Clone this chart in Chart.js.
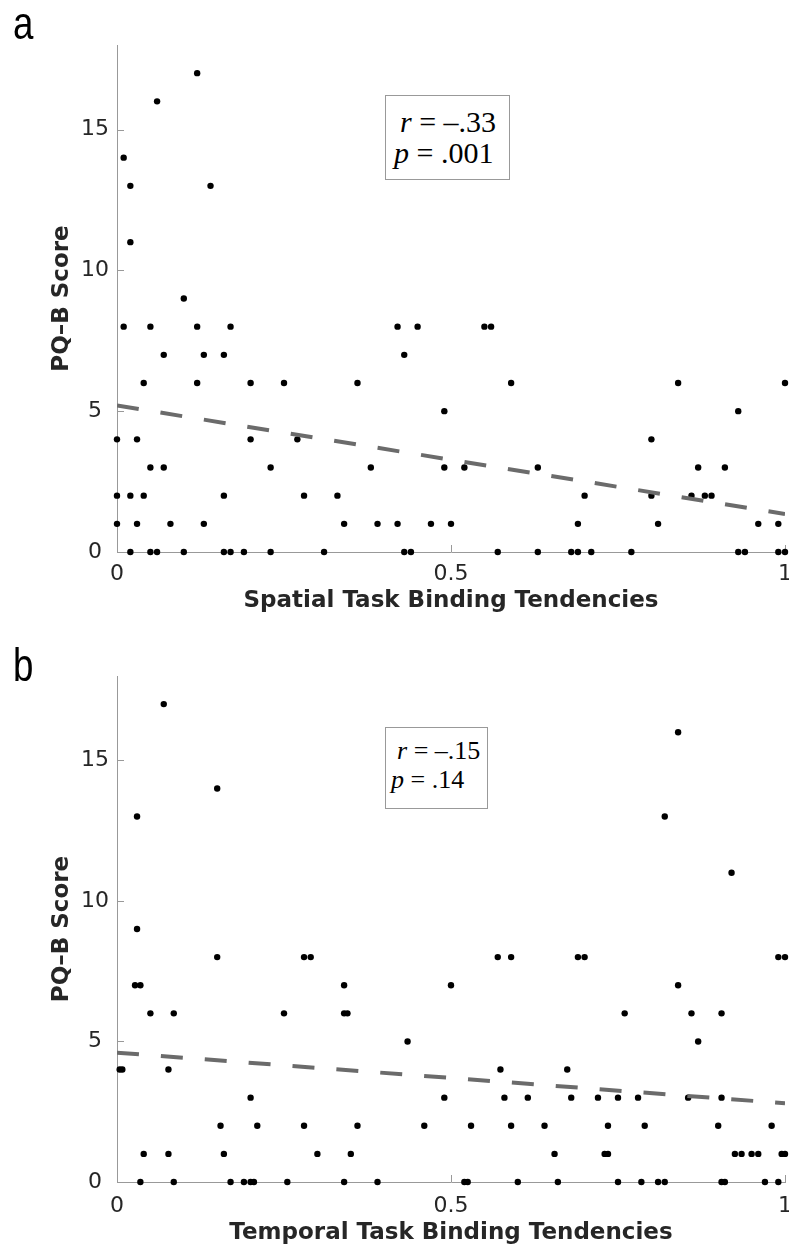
<!DOCTYPE html>
<html>
<head>
<meta charset="utf-8">
<script src="https://cdn.jsdelivr.net/npm/chart.js@4.4.1/dist/chart.umd.min.js"></script>
<style>
  body{margin:0;background:#fff;width:789px;height:1250px;position:relative;overflow:hidden}
  .panel{position:absolute;left:0;width:789px;height:625px}
  canvas{display:block}
  .lbl{position:absolute;font-family:"Liberation Sans",sans-serif;font-size:47px;line-height:47px;color:#000;
       transform:scaleX(0.78);transform-origin:left top}
  .stat{position:absolute;box-sizing:border-box;border:1px solid #999;background:#fff;
        font-family:"Liberation Serif",serif;color:#000;white-space:nowrap}
  .stat .r{margin-left:6px}
</style>
</head>
<body>
<div class="panel" style="top:0"><canvas id="chartA" width="789" height="625"></canvas></div>
<div class="panel" style="top:625px"><canvas id="chartB" width="789" height="625"></canvas></div>
<div class="lbl" style="left:13px;top:-1px">a</div>
<div class="lbl" style="left:13px;top:641px">b</div>
<div class="stat" style="left:385px;top:95px;width:125px;height:85px;font-size:30px;line-height:31px;padding:10px 0 0 8px"><span class="r"><i>r</i> = –.33</span><br><i>p</i> = .001</div>
<div class="stat" style="left:385px;top:727px;width:103px;height:82px;font-size:26px;line-height:29px;padding:8px 0 0 5px"><span class="r"><i>r</i> = –.15</span><br><i>p</i> = .14</div>

<script>
// axis ticks
const xTicks = [0, 0.5, 1];
const yTicks = [0, 5, 10, 15];
const yMax = 18;

// panel a: spatial task binding vs PQ-B score
const spatialX = [0.12, 0.06, 0.01, 0.02, 0.14, 0.02, 0.10,
  0.01, 0.05, 0.12, 0.17, 0.42, 0.45, 0.55, 0.56,
  0.07, 0.13, 0.16, 0.43,
  0.04, 0.12, 0.20, 0.25, 0.36, 0.59, 0.84, 1.0,
  0.49, 0.93,
  0.0, 0.03, 0.20, 0.27, 0.80,
  0.05, 0.07, 0.23, 0.38, 0.49, 0.52, 0.63, 0.87, 0.91,
  0.0, 0.02, 0.04, 0.16, 0.28, 0.33, 0.70, 0.80, 0.86, 0.88, 0.89,
  0.0, 0.03, 0.08, 0.13, 0.34, 0.39, 0.42, 0.47, 0.50, 0.69, 0.81, 0.96, 0.99,
  0.02, 0.05, 0.06, 0.10, 0.16, 0.17, 0.19, 0.23, 0.31, 0.43, 0.44, 0.57, 0.63, 0.68, 0.69, 0.71, 0.77, 0.93, 0.94, 0.99, 1.0];
const spatialY = [17, 16, 14, 13, 13, 11, 9,
  8, 8, 8, 8, 8, 8, 8, 8,
  7, 7, 7, 7,
  6, 6, 6, 6, 6, 6, 6, 6,
  5, 5,
  4, 4, 4, 4, 4,
  3, 3, 3, 3, 3, 3, 3, 3, 3,
  2, 2, 2, 2, 2, 2, 2, 2, 2, 2, 2,
  1, 1, 1, 1, 1, 1, 1, 1, 1, 1, 1, 1, 1,
  0, 0, 0, 0, 0, 0, 0, 0, 0, 0, 0, 0, 0, 0, 0, 0, 0, 0, 0, 0, 0];
const spatialFitX = [0, 1];
const spatialFitY = [5.2, 1.35];

// panel b: temporal task binding vs PQ-B score
const temporalX = [0.07, 0.84, 0.15, 0.03, 0.82, 0.92, 0.03,
  0.15, 0.28, 0.29, 0.57, 0.59, 0.69, 0.70, 0.99, 1.0,
  0.027, 0.035, 0.34, 0.50, 0.84,
  0.05, 0.085, 0.25, 0.34, 0.345, 0.76, 0.86, 0.905,
  0.435, 0.87,
  0.004, 0.008, 0.077, 0.574, 0.674,
  0.20, 0.49, 0.58, 0.615, 0.68, 0.72, 0.75, 0.78, 0.855, 0.905,
  0.155, 0.21, 0.28, 0.36, 0.46, 0.53, 0.59, 0.64, 0.735, 0.79, 0.90, 0.98,
  0.04, 0.077, 0.16, 0.30, 0.35, 0.655, 0.73, 0.735, 0.925, 0.935, 0.95, 0.96, 0.995, 1.0,
  0.035, 0.085, 0.17, 0.19, 0.20, 0.205, 0.255, 0.34, 0.39, 0.52, 0.525, 0.60, 0.66, 0.75, 0.785, 0.81, 0.82, 0.905, 0.91, 0.97, 0.99];
const temporalY = [17, 16, 14, 13, 13, 11, 9,
  8, 8, 8, 8, 8, 8, 8, 8, 8,
  7, 7, 7, 7, 7,
  6, 6, 6, 6, 6, 6, 6, 6,
  5, 5,
  4, 4, 4, 4, 4,
  3, 3, 3, 3, 3, 3, 3, 3, 3, 3,
  2, 2, 2, 2, 2, 2, 2, 2, 2, 2, 2, 2,
  1, 1, 1, 1, 1, 1, 1, 1, 1, 1, 1, 1, 1, 1,
  0, 0, 0, 0, 0, 0, 0, 0, 0, 0, 0, 0, 0, 0, 0, 0, 0, 0, 0, 0, 0];
const temporalFitX = [0, 1];
const temporalFitY = [4.6, 2.8];

Chart.defaults.font.family = "DejaVu Sans";
Chart.defaults.color = "#262626";

// MATLAB style tick marks pointing into the plot
const innerTicks = {
  id: "innerTicks",
  beforeDatasetsDraw(chart){
    const {ctx, chartArea: a, scales: {x, y}} = chart;
    ctx.save();
    ctx.strokeStyle = "#999";
    ctx.lineWidth = 1;
    ctx.beginPath();
    x.ticks.forEach(t => {
      const px = Math.round(x.getPixelForValue(t.value)) + 0.5;
      ctx.moveTo(px, a.bottom); ctx.lineTo(px, a.bottom - 7);
    });
    y.ticks.forEach(t => {
      const py = Math.round(y.getPixelForValue(t.value)) + 0.5;
      ctx.moveTo(a.left, py); ctx.lineTo(a.left + 7, py);
    });
    ctx.stroke();
    ctx.restore();
  }
};

function makeChart(id, xs, ys, fitX, fitY, xTitle, top, xHeight, tickPad, titlePad){
  return new Chart(document.getElementById(id), {
    type: "scatter",
    data: {
      datasets: [
        {
          type: "line",
          data: fitX.map((v, i) => ({x: v, y: fitY[i]})),
          borderColor: "#6b6b6b",
          borderWidth: 4,
          borderDash: [22, 22],
          pointRadius: 0,
          fill: false
        },
        {
          data: xs.map((v, i) => ({x: v, y: ys[i]})),
          backgroundColor: "#000",
          borderWidth: 0,
          pointRadius: 3.2,
          clip: false
        }
      ]
    },
    options: {
      responsive: false,
      animation: false,
      devicePixelRatio: 1,
      layout: {padding: {left: 0, right: 2, top: top, bottom: 0}},
      plugins: {legend: {display: false}, tooltip: {enabled: false}},
      scales: {
        x: {
          type: "linear", min: 0, max: 1,
          afterBuildTicks: s => { s.ticks = xTicks.map(v => ({value: v})); },
          afterFit: s => { s.height = xHeight; s.paddingLeft = 0; s.paddingRight = 0; },
          grid: {display: false, drawTicks: false},
          border: {display: true, color: "#999", width: 1},
          ticks: {padding: tickPad, font: {size: 22}, color: "#262626", maxRotation: 0,
                  callback: v => String(v)},
          title: {display: true, text: xTitle, color: "#262626",
                  font: {size: 23, weight: "bold"}, padding: {top: 0, bottom: titlePad}}
        },
        y: {
          type: "linear", min: 0, max: yMax,
          afterBuildTicks: s => { s.ticks = yTicks.map(v => ({value: v})); },
          afterFit: s => { s.width = 117; s.paddingTop = 0; s.paddingBottom = 0; },
          grid: {display: false, drawTicks: false},
          border: {display: true, color: "#999", width: 1},
          ticks: {padding: 8, crossAlign: "center", font: {size: 22}, color: "#262626"},
          title: {display: true, text: "PQ–B Score", color: "#262626",
                  font: {size: 23, weight: "bold"}, padding: {top: 48, bottom: 0}}
        }
      }
    },
    plugins: [innerTicks]
  });
}

makeChart("chartA", spatialX, spatialY, spatialFitX, spatialFitY,
  "Spatial Task Binding Tendencies", 45, 73, 9, 10);
makeChart("chartB", temporalX, temporalY, temporalFitX, temporalFitY,
  "Temporal Task Binding Tendencies", 51, 68, 11, 3);
</script>
</body>
</html>
